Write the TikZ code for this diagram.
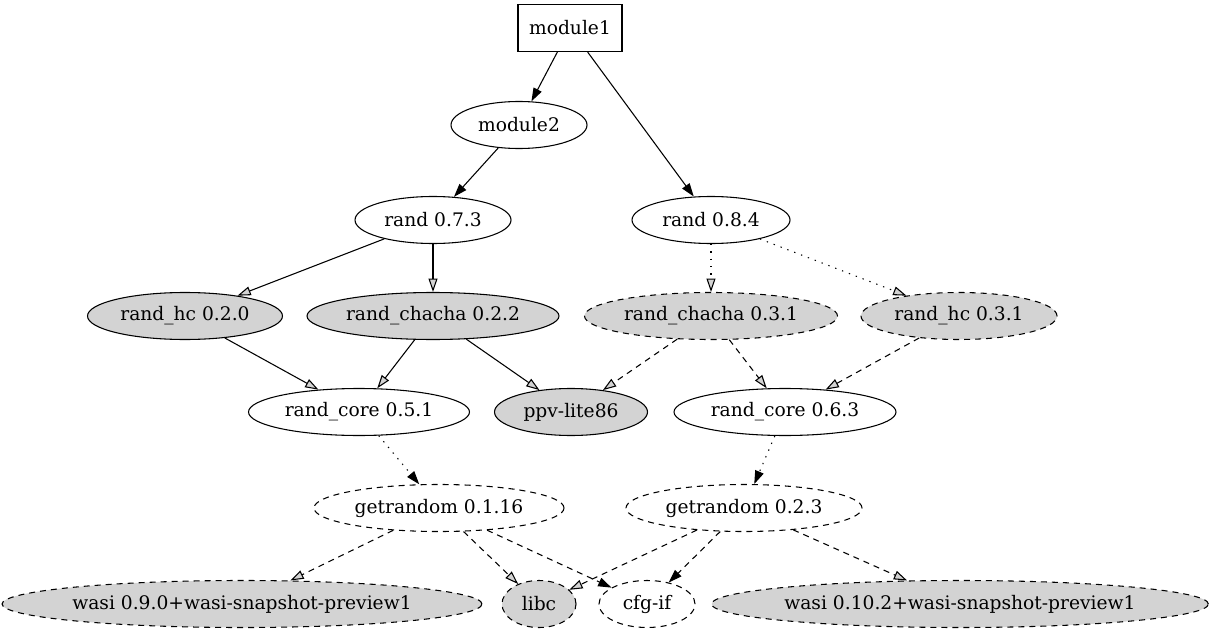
\documentclass[tikz,border=0pt]{standalone}
\usepackage{fontspec}
\setmainfont{DejaVu Serif}
\usepackage{tikz,xcolor}
\usetikzlibrary{arrows.meta}
\usetikzlibrary{shapes.geometric}
\definecolor{crate area}{HTML}{D3D3D3}
\tikzstyle{crate} = [ellipse, draw, inner sep=0pt, minimum height=35.25pt, font=\fontsize{14}{16}\selectfont]
\tikzstyle{rootbox} = [rectangle, draw, inner sep=0pt, minimum width=78pt, minimum height=35.25pt, font=\fontsize{14}{16}\selectfont]
\tikzset{grayed/.style={fill=crate area},
    maybe/.style={dash pattern=on 4.5pt off 3.75pt},
    sparse/.style={dash pattern=on 1pt off 4.5pt},
    solidtip/.style={-{Triangle[length=10pt,width=6.7pt]}},
    hollowtip/.style={-{Triangle[length=10pt,width=6.7pt,fill=crate area]}}}

\begin{document}
\begin{tikzpicture}[x=0.75pt, y=-0.75pt, line width=0.8pt]
    \useasboundingbox (0,0) rectangle (1210,635);
    % Definition of crates
    \node[rootbox] (module1) at (570,28) {module1};
    \node[crate, minimum width=102pt] (module2) at (519,125) {module2};
    \node[crate, minimum width=117pt] (rand073) at (433,220) {rand 0.7.3};
    \node[crate, minimum width=118.5pt] (rand084) at (711,220) {rand 0.8.4};
    \node[crate, grayed, minimum width=146.25pt] (randHc020) at (185,316) {rand\_hc 0.2.0};
    \node[crate, grayed, minimum width=189pt] (randChacha022) at (433,316) {rand\_chacha 0.2.2};
    \node[crate, grayed, maybe, minimum width=189.75pt] (randChacha031) at (711,316) {rand\_chacha 0.3.1};
    \node[crate, grayed, maybe, minimum width=147pt] (randHc031) at (959,316) {rand\_hc 0.3.1};
    \node[crate, minimum width=165.75pt] (randCore051) at (359,412) {rand\_core 0.5.1};
    \node[crate, grayed, minimum width=114.75pt] (ppvLite) at (571,412) {ppv-lite86};
    \node[crate, minimum width=166.5pt] (randCore063) at (785,412) {rand\_core 0.6.3};
    \node[crate, maybe, minimum width=187.5pt] (getrandom0116) at (439,508) {getrandom 0.1.16};
    \node[crate, maybe, minimum width=177pt] (getrandom023) at (744,508) {getrandom 0.2.3};
    \node[crate, grayed, maybe, minimum width=355.5pt] (wasi090) at (242,604) {wasi 0.9.0+wasi-snapshot-preview1};
    \node[crate, grayed, maybe, minimum width=55.5pt] (libc) at (539,604) {libc};
    \node[crate, maybe, minimum width=72pt] (cfgIf) at (647,604) {cfg-if};
    \node[crate, grayed, maybe, minimum width=365.25pt] (wasi0102) at (960,604) {wasi 0.10.2+wasi-snapshot-preview1};
    %
    % Dependencies
    \draw[solidtip] (module1) -- (module2);
    \draw[solidtip] (module1) -- (rand084);
    \draw[solidtip] (module2) -- (rand073);
    \draw[hollowtip] (rand073) -- (randHc020);
    \draw[hollowtip] (rand073) -- (randChacha022);
    \draw[hollowtip] (randHc020) -- (randCore051);
    \draw[hollowtip] (randChacha022) -- (randCore051);
    \draw[hollowtip] (randChacha022) -- (ppvLite);
    \draw[hollowtip, sparse] (rand084) -- (randChacha031);
    \draw[hollowtip, sparse] (rand084) -- (randHc031);
    \draw[hollowtip, maybe] (randChacha031) -- (ppvLite);
    \draw[hollowtip, maybe] (randChacha031) -- (randCore063);
    \draw[hollowtip, maybe] (randHc031) -- (randCore063);
    \draw[solidtip, sparse] (randCore051) -- (getrandom0116);
    \draw[solidtip, sparse] (randCore063) -- (getrandom023);
    \draw[hollowtip, maybe] (getrandom0116) -- (wasi090);
    \draw[hollowtip, maybe] (getrandom0116) -- (libc);
    \draw[solidtip, maybe] (getrandom0116) -- (cfgIf);
    \draw[hollowtip, maybe] (getrandom023) -- (libc);
    \draw[solidtip, maybe] (getrandom023) -- (cfgIf);
    \draw[hollowtip, maybe] (getrandom023) -- (wasi0102);
\end{tikzpicture}
\end{document}
